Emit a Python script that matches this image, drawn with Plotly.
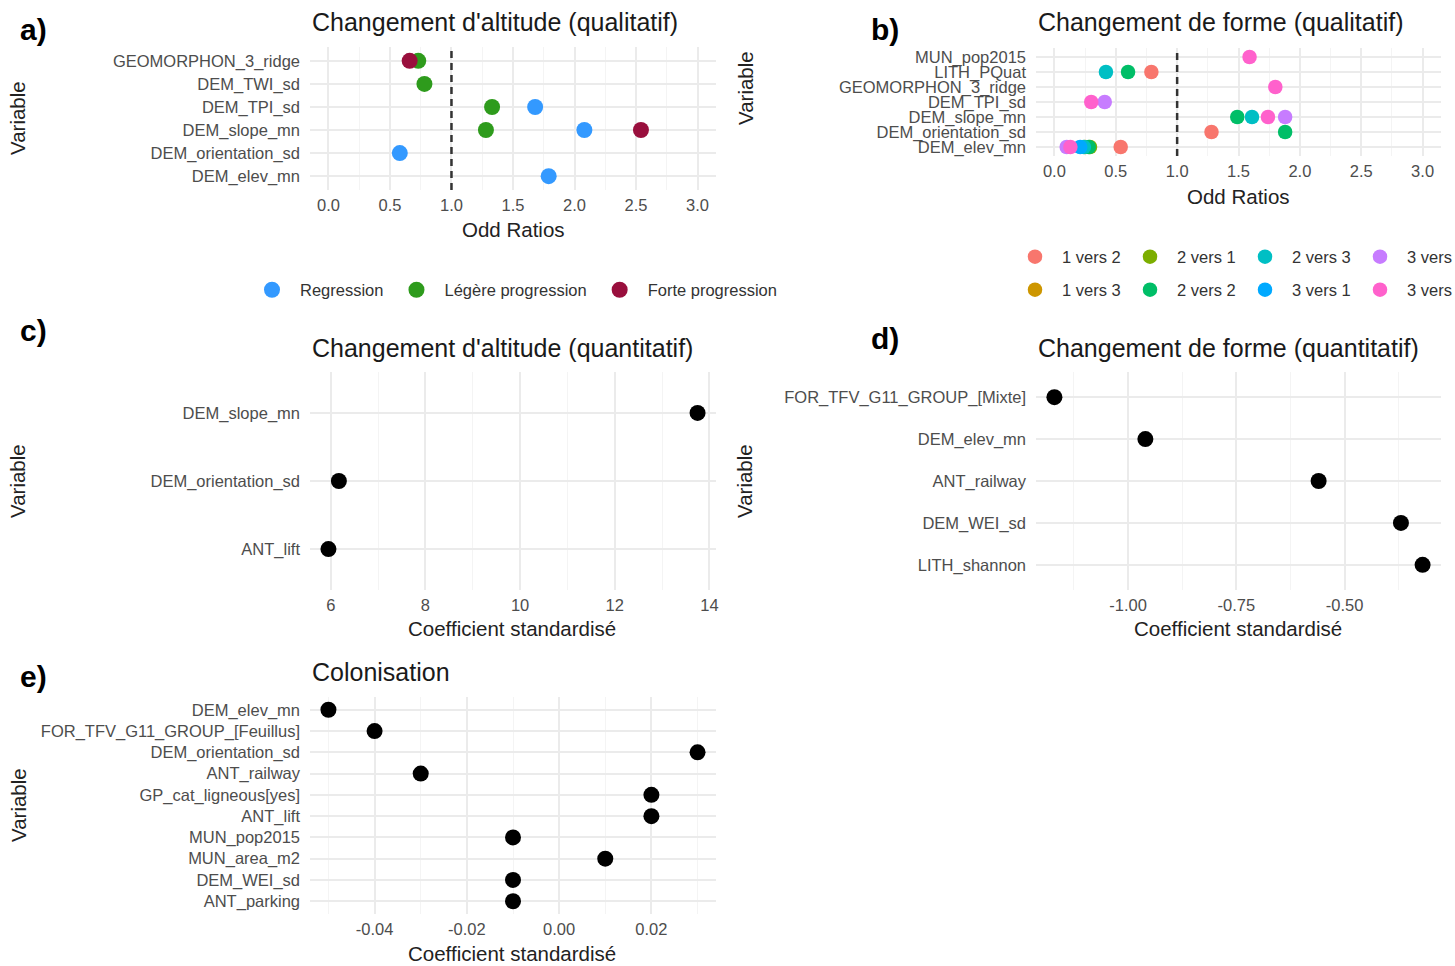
import plotly.graph_objects as go

# ---------------- DATA ----------------
# Panel a : Changement d'altitude (qualitatif) — odds ratios
a_vars = ["DEM_elev_mn", "DEM_orientation_sd", "DEM_slope_mn", "DEM_TPI_sd",
          "DEM_TWI_sd", "GEOMORPHON_3_ridge"]  # bottom -> top
a_groups = ["Regression", "Légère progression", "Forte progression"]
a_colors = ["#3399FF", "#2E9B1C", "#990F3D"]
a_reg_vars = ["DEM_elev_mn", "DEM_orientation_sd", "DEM_slope_mn", "DEM_TPI_sd"]
a_reg_or = [1.79, 0.58, 2.08, 1.68]
a_leg_vars = ["DEM_slope_mn", "DEM_TPI_sd", "DEM_TWI_sd", "GEOMORPHON_3_ridge"]
a_leg_or = [1.28, 1.33, 0.78, 0.73]
a_forte_vars = ["DEM_slope_mn", "GEOMORPHON_3_ridge"]
a_forte_or = [2.54, 0.66]

# Panel b : Changement de forme (qualitatif) — odds ratios
b_vars = ["DEM_elev_mn", "DEM_orientation_sd", "DEM_slope_mn", "DEM_TPI_sd",
          "GEOMORPHON_3_ridge", "LITH_PQuat", "MUN_pop2015"]  # bottom -> top
b_groups = ["1 vers 2", "1 vers 3", "2 vers 1", "2 vers 2",
            "2 vers 3", "3 vers 1", "3 vers 2", "3 vers 3"]
b_colors = ["#F8766D", "#CD9600", "#7CAE00", "#00BE67",
            "#00BFC4", "#00A9FF", "#C77CFF", "#FF61CC"]
b_1v2_vars = ["DEM_elev_mn", "DEM_orientation_sd", "LITH_PQuat"]
b_1v2_or = [0.54, 1.28, 0.79]
b_1v3_vars = ["DEM_elev_mn"]
b_1v3_or = [0.25]
b_2v1_vars = ["DEM_elev_mn"]
b_2v1_or = [0.29]
b_2v2_vars = ["DEM_elev_mn", "DEM_orientation_sd", "DEM_slope_mn", "LITH_PQuat"]
b_2v2_or = [0.28, 1.88, 1.49, 0.60]
b_2v3_vars = ["DEM_elev_mn", "DEM_slope_mn", "LITH_PQuat"]
b_2v3_or = [0.24, 1.61, 0.42]
b_3v1_vars = ["DEM_elev_mn"]
b_3v1_or = [0.21]
b_3v2_vars = ["DEM_elev_mn", "DEM_slope_mn", "DEM_TPI_sd"]
b_3v2_or = [0.10, 1.88, 0.41]
b_3v3_vars = ["DEM_elev_mn", "DEM_slope_mn", "DEM_TPI_sd", "GEOMORPHON_3_ridge", "MUN_pop2015"]
b_3v3_or = [0.13, 1.74, 0.30, 1.80, 1.59]

# Panel c : Changement d'altitude (quantitatif)
c_vars = ["ANT_lift", "DEM_orientation_sd", "DEM_slope_mn"]  # bottom -> top
c_coef = [5.95, 6.17, 13.75]

# Panel d : Changement de forme (quantitatif)
d_vars = ["LITH_shannon", "DEM_WEI_sd", "ANT_railway", "DEM_elev_mn",
          "FOR_TFV_G11_GROUP_[Mixte]"]  # bottom -> top
d_coef = [-0.32, -0.37, -0.56, -0.96, -1.17]

# Panel e : Colonisation
e_vars = ["ANT_parking", "DEM_WEI_sd", "MUN_area_m2", "MUN_pop2015", "ANT_lift",
          "GP_cat_ligneous[yes]", "ANT_railway", "DEM_orientation_sd",
          "FOR_TFV_G11_GROUP_[Feuillus]", "DEM_elev_mn"]  # bottom -> top
e_coef = [-0.01, -0.01, 0.01, -0.01, 0.02, 0.02, -0.03, 0.03, -0.04, -0.05]

# tick labels
or_ticks = [0.0, 0.5, 1.0, 1.5, 2.0, 2.5, 3.0]
or_ticktext = ["0.0", "0.5", "1.0", "1.5", "2.0", "2.5", "3.0"]
or_minor = [0.25, 0.75, 1.25, 1.75, 2.25, 2.75]
c_ticks = [6, 8, 10, 12, 14]
c_ticktext = ["6", "8", "10", "12", "14"]
c_minor = [7, 9, 11, 13]
d_ticks = [-1.0, -0.75, -0.5]
d_ticktext = ["-1.00", "-0.75", "-0.50"]
d_minor = [-1.125, -0.875, -0.625, -0.375]
e_ticks = [-0.04, -0.02, 0.0, 0.02]
e_ticktext = ["-0.04", "-0.02", "0.00", "0.02"]
e_minor = [-0.05, -0.03, -0.01, 0.01, 0.03]
ref_line_or = 1.0

# ---------------- STYLE / LAYOUT ----------------
W, H = 1455, 966
FONT = "Liberation Sans, Arial, sans-serif"
GRID = "#EBEBEB"
GRID_MINOR = "#F4F4F4"
TICKCOL = "#4D4D4D"
MS = 16


def fx(p):
    return p / W


def fy(p):
    return 1 - p / H


fig = go.Figure()

# panel a traces
for name, col, vs, vals in zip(a_groups, a_colors,
                               [a_reg_vars, a_leg_vars, a_forte_vars],
                               [a_reg_or, a_leg_or, a_forte_or]):
    fig.add_trace(go.Scatter(x=vals, y=vs, mode="markers", name=name,
                             marker=dict(color=col, size=MS, line=dict(width=0)),
                             xaxis="x", yaxis="y", legend="legend"))

# panel b traces
b_data = [(b_1v2_vars, b_1v2_or), (b_1v3_vars, b_1v3_or), (b_2v1_vars, b_2v1_or),
          (b_2v2_vars, b_2v2_or), (b_2v3_vars, b_2v3_or), (b_3v1_vars, b_3v1_or),
          (b_3v2_vars, b_3v2_or), (b_3v3_vars, b_3v3_or)]
row1 = ["1 vers 2", "2 vers 1", "2 vers 3", "3 vers 2"]
for name, col, (vs, vals) in zip(b_groups, b_colors, b_data):
    fig.add_trace(go.Scatter(x=vals, y=vs, mode="markers", name=name,
                             marker=dict(color=col, size=14.5, line=dict(width=0)),
                             xaxis="x2", yaxis="y2",
                             legend="legend2" if name in row1 else "legend3"))

# panels c, d, e
for vals, vs, xa, ya in [(c_coef, c_vars, "x3", "y3"), (d_coef, d_vars, "x4", "y4"),
                         (e_coef, e_vars, "x5", "y5")]:
    fig.add_trace(go.Scatter(x=vals, y=vs, mode="markers", showlegend=False,
                             marker=dict(color="black", size=MS, line=dict(width=0)),
                             xaxis=xa, yaxis=ya))


def xax(dom, rng, tv, tt, minor, anchor):
    return dict(domain=[fx(dom[0]), fx(dom[1])], range=rng, anchor=anchor,
                tickmode="array", tickvals=tv, ticktext=tt, automargin=False,
                showgrid=True, gridcolor=GRID, gridwidth=2, zeroline=False,
                showline=False, ticks="", ticklabelstandoff=3,
                tickfont=dict(family=FONT, size=16.5, color=TICKCOL),
                minor=dict(tickmode="array", tickvals=minor, showgrid=True,
                           gridcolor=GRID_MINOR, gridwidth=1),
                fixedrange=True)


def yax(dom, cats, anchor, fs=16.5):
    return dict(domain=[fy(dom[1]), fy(dom[0])], type="category",
                categoryorder="array", categoryarray=cats, automargin=False,
                tickmode="linear", tick0=0, dtick=1,
                range=[-0.6, len(cats) - 0.4], anchor=anchor,
                showgrid=True, gridcolor=GRID, gridwidth=2, zeroline=False,
                showline=False, ticks="", ticklabelstandoff=9,
                tickfont=dict(family=FONT, size=fs, color=TICKCOL),
                fixedrange=True)


LX = (310, 716)
RX = (1036, 1441)

legfont = dict(family=FONT, size=16.5, color="#333333")
layout = dict(
    width=W, height=H, margin=dict(l=0, r=0, t=0, b=0, autoexpand=False),
    paper_bgcolor="white", plot_bgcolor="white",
    font=dict(family=FONT, color="#1A1A1A"),
    xaxis=xax(LX, [-0.15, 3.15], or_ticks, or_ticktext, or_minor, "y"),
    yaxis=yax((47, 190), a_vars, "x"),
    xaxis2=xax(RX, [-0.15, 3.15], or_ticks, or_ticktext, or_minor, "y2"),
    yaxis2=yax((48, 156), b_vars, "x2"),
    xaxis3=xax(LX, [5.56, 14.14], c_ticks, c_ticktext, c_minor, "y3"),
    yaxis3=yax((372, 590), c_vars, "x3"),
    xaxis4=xax(RX, [-1.2125, -0.2775], d_ticks, d_ticktext, d_minor, "y4"),
    yaxis4=yax((372, 590), d_vars, "x4"),
    xaxis5=xax(LX, [-0.054, 0.034], e_ticks, e_ticktext, e_minor, "y5"),
    yaxis5=yax((697, 914), e_vars, "x5"),
    legend=dict(orientation="h", x=fx(244), xanchor="left", y=fy(290), yanchor="middle",
                font=legfont, bgcolor="rgba(0,0,0,0)", itemwidth=46),
    legend2=dict(orientation="h", x=fx(1008), xanchor="left", y=fy(257), yanchor="middle",
                 font=legfont, bgcolor="rgba(0,0,0,0)", itemwidth=44,
                 entrywidth=56, entrywidthmode="pixels"),
    legend3=dict(orientation="h", x=fx(1008), xanchor="left", y=fy(290), yanchor="middle",
                 font=legfont, bgcolor="rgba(0,0,0,0)", itemwidth=44,
                 entrywidth=56, entrywidthmode="pixels"),
    showlegend=True,
)
fig.update_layout(**layout)

# reference lines (odds ratio = 1)
for xr, yr in [("x", "y domain"), ("x2", "y2 domain")]:
    fig.add_shape(type="line", xref=xr, yref=yr, x0=ref_line_or, x1=ref_line_or,
                  y0=0, y1=1, layer="above",
                  line=dict(color="#333333", width=2.5, dash="7px,5px"))

ann = []


def text(x, y, s, size, color="#1A1A1A", xanchor="center", angle=0, bold=False):
    ann.append(dict(x=fx(x), y=fy(y), xref="paper", yref="paper", text=(f"<b>{s}</b>" if bold else s),
                    showarrow=False, xanchor=xanchor, yanchor="middle", textangle=angle,
                    font=dict(family=FONT, size=size, color=color)))


# panel labels
for lbl, x, y in [("a)", 33, 30), ("b)", 885, 30), ("c)", 33, 330), ("d)", 885, 338), ("e)", 33, 676)]:
    text(x, y, lbl, 30, "black", bold=True)

# panel titles
for t, x, y in [("Changement d'altitude (qualitatif)", 310, 22),
                ("Changement de forme (qualitatif)", 1036, 22),
                ("Changement d'altitude (quantitatif)", 310, 348),
                ("Changement de forme (quantitatif)", 1036, 348),
                ("Colonisation", 310, 672)]:
    text(x, y, t, 25, "#1A1A1A", xanchor="left")

# x axis titles
for t, x, y in [("Odd Ratios", 513, 229), ("Odd Ratios", 1238, 196),
                ("Coefficient standardisé", 512, 628), ("Coefficient standardisé", 1238, 628),
                ("Coefficient standardisé", 512, 953)]:
    text(x, y, t, 20.5, "#222222")

# y axis titles
for x, y in [(18, 118), (745, 88), (18, 481), (745, 481), (18, 805)]:
    text(x, y, "Variable", 20.5, "#222222", angle=-90)

fig.update_layout(annotations=ann)

# remove the browser's default 8px body margin so the figure fills the window exactly
fig.write_html("out.html",
               config={"displayModeBar": False, "staticPlot": True},
               post_script="document.body.style.margin='0px';"
                           "document.documentElement.style.overflow='hidden';")
